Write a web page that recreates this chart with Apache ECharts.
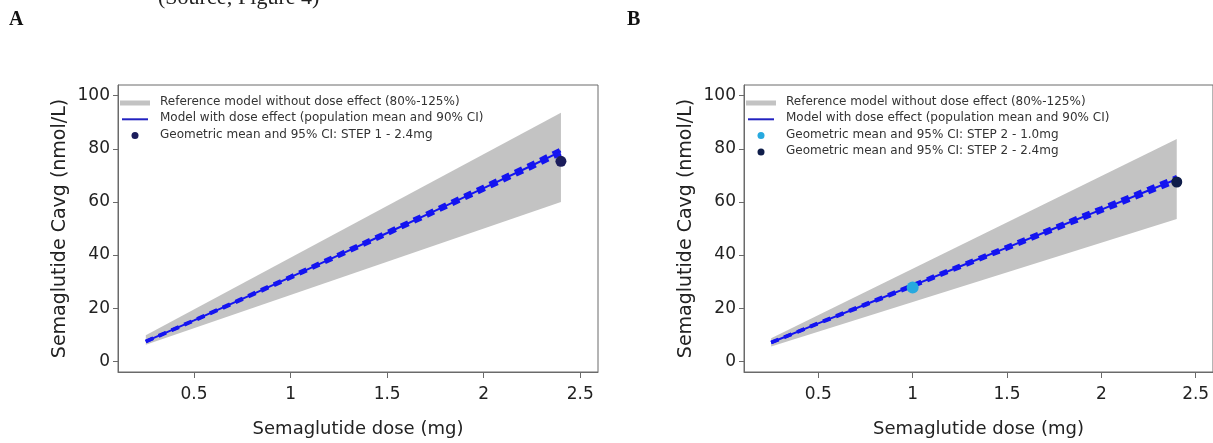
<!DOCTYPE html>
<html>
<head>
<meta charset="utf-8">
<script src="https://cdn.jsdelivr.net/npm/echarts@6/dist/echarts.min.js"></script>
<style>
  html, body { margin: 0; padding: 0; background: #ffffff; }
  #chart { width: 1213px; height: 443px; }
</style>
</head>
<body>
<div id="chart"></div>
<script>
// ---------- data ----------
const xTicks = [0.5, 1, 1.5, 2, 2.5];
const yTicks = [0, 20, 40, 60, 80, 100];

const modelDoses = [0.25, 0.5, 0.75, 1, 1.25, 1.5, 1.75, 2, 2.25, 2.4];
const refDoses = [0.25, 2.4];

// Panel A (STEP 1)
const aRefLower = [6.3, 60.0];
const aRefUpper = [9.8, 93.6];
const aMean  = [7.5, 15.4, 23.5, 31.7, 40.0, 48.3, 56.7, 65.2, 73.7, 79.0];
const aUpper = [7.55, 15.5, 23.7, 32.0, 40.4, 48.8, 57.3, 65.9, 74.5, 79.9];
const aLower = [7.45, 15.3, 23.3, 31.4, 39.6, 47.8, 56.1, 64.5, 72.9, 78.1];
const aObs24 = [[2.4, 75.3]];

// Panel B (STEP 2)
const bRefLower = [5.6, 53.6];
const bRefUpper = [8.7, 83.7];
const bMean  = [7.1, 14.3, 21.4, 28.5, 35.7, 42.8, 50.0, 57.1, 64.3, 68.6];
const bUpper = [7.15, 14.4, 21.6, 28.8, 36.1, 43.3, 50.6, 57.8, 65.1, 69.5];
const bLower = [7.05, 14.2, 21.2, 28.2, 35.3, 42.3, 49.4, 56.4, 63.5, 67.7];
const bObs10 = [[1.0, 27.8]];
const bObs24 = [[2.4, 67.5]];

const legendA = [
  'Reference model without dose effect (80%-125%)',
  'Model with dose effect (population mean and 90% CI)',
  'Geometric mean and 95% CI: STEP 1 - 2.4mg'
];
const legendB = [
  'Reference model without dose effect (80%-125%)',
  'Model with dose effect (population mean and 90% CI)',
  'Geometric mean and 95% CI: STEP 2 - 1.0mg',
  'Geometric mean and 95% CI: STEP 2 - 2.4mg'
];

// ---------- styling ----------
const FONT = 'DejaVu Sans';
const AXIS_COLOR = '#6a6a6a';
const BAND_COLOR = '#c3c3c3';
const BLUE = '#1414f0';
const NAVY = '#1b1d5c';
const NAVY2 = '#0f1d4a';
const LIGHTBLUE = '#27a9df';

const zip = (xs, ys) => xs.map((x, i) => [x, ys[i]]);

function bandSeries(idx, lo, hi, name) {
  return {
    type: 'custom', name: name, xAxisIndex: idx, yAxisIndex: idx, z: 1,
    data: refDoses.map((d, i) => [d, lo[i], hi[i]]),
    encode: { x: 0, y: [1, 2] },
    silent: true,
    renderItem: function (params, api) {
      if (params.dataIndex !== 0) return null;
      const pts = [];
      for (let i = 0; i < refDoses.length; i++) pts.push(api.coord([refDoses[i], hi[i]]));
      for (let i = refDoses.length - 1; i >= 0; i--) pts.push(api.coord([refDoses[i], lo[i]]));
      return { type: 'polygon', shape: { points: pts }, style: { fill: BAND_COLOR } };
    }
  };
}

function lineSeries(idx, ys, dashed) {
  return {
    type: 'line', xAxisIndex: idx, yAxisIndex: idx, z: 3,
    data: zip(modelDoses, ys), showSymbol: false, symbol: 'none', silent: true,
    lineStyle: dashed ? { color: BLUE, width: 3.5, type: [8, 6] } : { color: BLUE, width: 2 }
  };
}

function pointSeries(idx, pts, color, size) {
  return {
    type: 'scatter', xAxisIndex: idx, yAxisIndex: idx, z: 5, silent: true,
    data: pts, symbol: 'circle', symbolSize: size,
    itemStyle: { color: color, opacity: 1 }
  };
}

function xAxis(idx) {
  return {
    type: 'value', gridIndex: idx, min: 0.106, max: 2.592,
    name: 'Semaglutide dose (mg)', nameLocation: 'middle', nameGap: 48,
    nameTextStyle: { fontFamily: FONT, fontSize: 18, color: '#222' },
    axisLine: { show: true, onZero: false, lineStyle: { color: AXIS_COLOR, width: 1 } },
    axisTick: { show: true, length: 6, customValues: xTicks, lineStyle: { color: AXIS_COLOR } },
    axisLabel: { customValues: xTicks, margin: 14, fontFamily: FONT, fontSize: 17, color: '#222',
                 formatter: v => String(v) },
    splitLine: { show: false }
  };
}

function yAxis(idx) {
  return {
    type: 'value', gridIndex: idx, min: -4, max: 104,
    name: 'Semaglutide Cavg (nmol/L)', nameLocation: 'middle', nameGap: 48, nameRotate: 90,
    nameTextStyle: { fontFamily: FONT, fontSize: 19, color: '#222' },
    axisLine: { show: true, onZero: false, lineStyle: { color: AXIS_COLOR, width: 1 } },
    axisTick: { show: true, length: 5, customValues: yTicks, lineStyle: { color: AXIS_COLOR } },
    axisLabel: { customValues: yTicks, margin: 8, fontFamily: FONT, fontSize: 17, color: '#222' },
    splitLine: { show: false }
  };
}

function legendGraphics(x0, labels, kinds) {
  const rows = [103, 119.3, 135.6, 151.9];
  const g = [];
  labels.forEach((t, i) => {
    const y = rows[i];
    const k = kinds[i];
    if (k.type === 'band') {
      g.push({ type: 'rect', left: x0 + 2, top: y - 2.5, shape: { width: 30, height: 5 }, style: { fill: BAND_COLOR } });
    } else if (k.type === 'line') {
      g.push({ type: 'line', shape: { x1: x0 + 4, y1: y, x2: x0 + 30, y2: y }, style: { stroke: '#2222c0', lineWidth: 2 } });
    } else {
      g.push({ type: 'circle', shape: { cx: x0 + 17, cy: y, r: 3.5 }, style: { fill: k.color } });
    }
    g.push({ type: 'text', left: x0 + 42, top: y - 7,
      style: { text: t, font: '12px "DejaVu Sans"', fill: '#333' } });
  });
  return g;
}

const chart = echarts.init(document.getElementById('chart'), null, { renderer: 'canvas' });

const graphics = [
  { type: 'text', left: 158, top: -13, style: { text: '(Source; Figure 4)', font: '22px "Liberation Serif"', fill: '#222' } },
  { type: 'text', left: 9, top: 10, style: { text: 'A', font: 'bold 20px "Liberation Serif"', fill: '#111' } },
  { type: 'text', left: 627, top: 10, style: { text: 'B', font: 'bold 20px "Liberation Serif"', fill: '#111' } }
].concat(
  legendGraphics(118, legendA, [{ type: 'band' }, { type: 'line' }, { type: 'dot', color: NAVY }]),
  legendGraphics(744, legendB, [{ type: 'band' }, { type: 'line' }, { type: 'dot', color: LIGHTBLUE }, { type: 'dot', color: NAVY2 }])
);

chart.setOption({
  animation: false,
  backgroundColor: '#ffffff',
  grid: [
    { left: 118, top: 85, width: 480, height: 291, show: true, borderColor: AXIS_COLOR, borderWidth: 1, backgroundColor: 'transparent' },
    { left: 744, top: 85, width: 480, height: 291, show: true, borderColor: AXIS_COLOR, borderWidth: 1, backgroundColor: 'transparent' }
  ],
  xAxis: [xAxis(0), xAxis(1)],
  yAxis: [yAxis(0), yAxis(1)],
  graphic: graphics,
  series: [
    bandSeries(0, aRefLower, aRefUpper, 'refA'),
    lineSeries(0, aMean, false),
    lineSeries(0, aUpper, true),
    lineSeries(0, aLower, true),
    pointSeries(0, aObs24, NAVY, 11),

    bandSeries(1, bRefLower, bRefUpper, 'refB'),
    lineSeries(1, bMean, false),
    lineSeries(1, bUpper, true),
    lineSeries(1, bLower, true),
    pointSeries(1, bObs10, LIGHTBLUE, 12),
    pointSeries(1, bObs24, NAVY2, 11)
  ]
});
</script>
</body>
</html>
